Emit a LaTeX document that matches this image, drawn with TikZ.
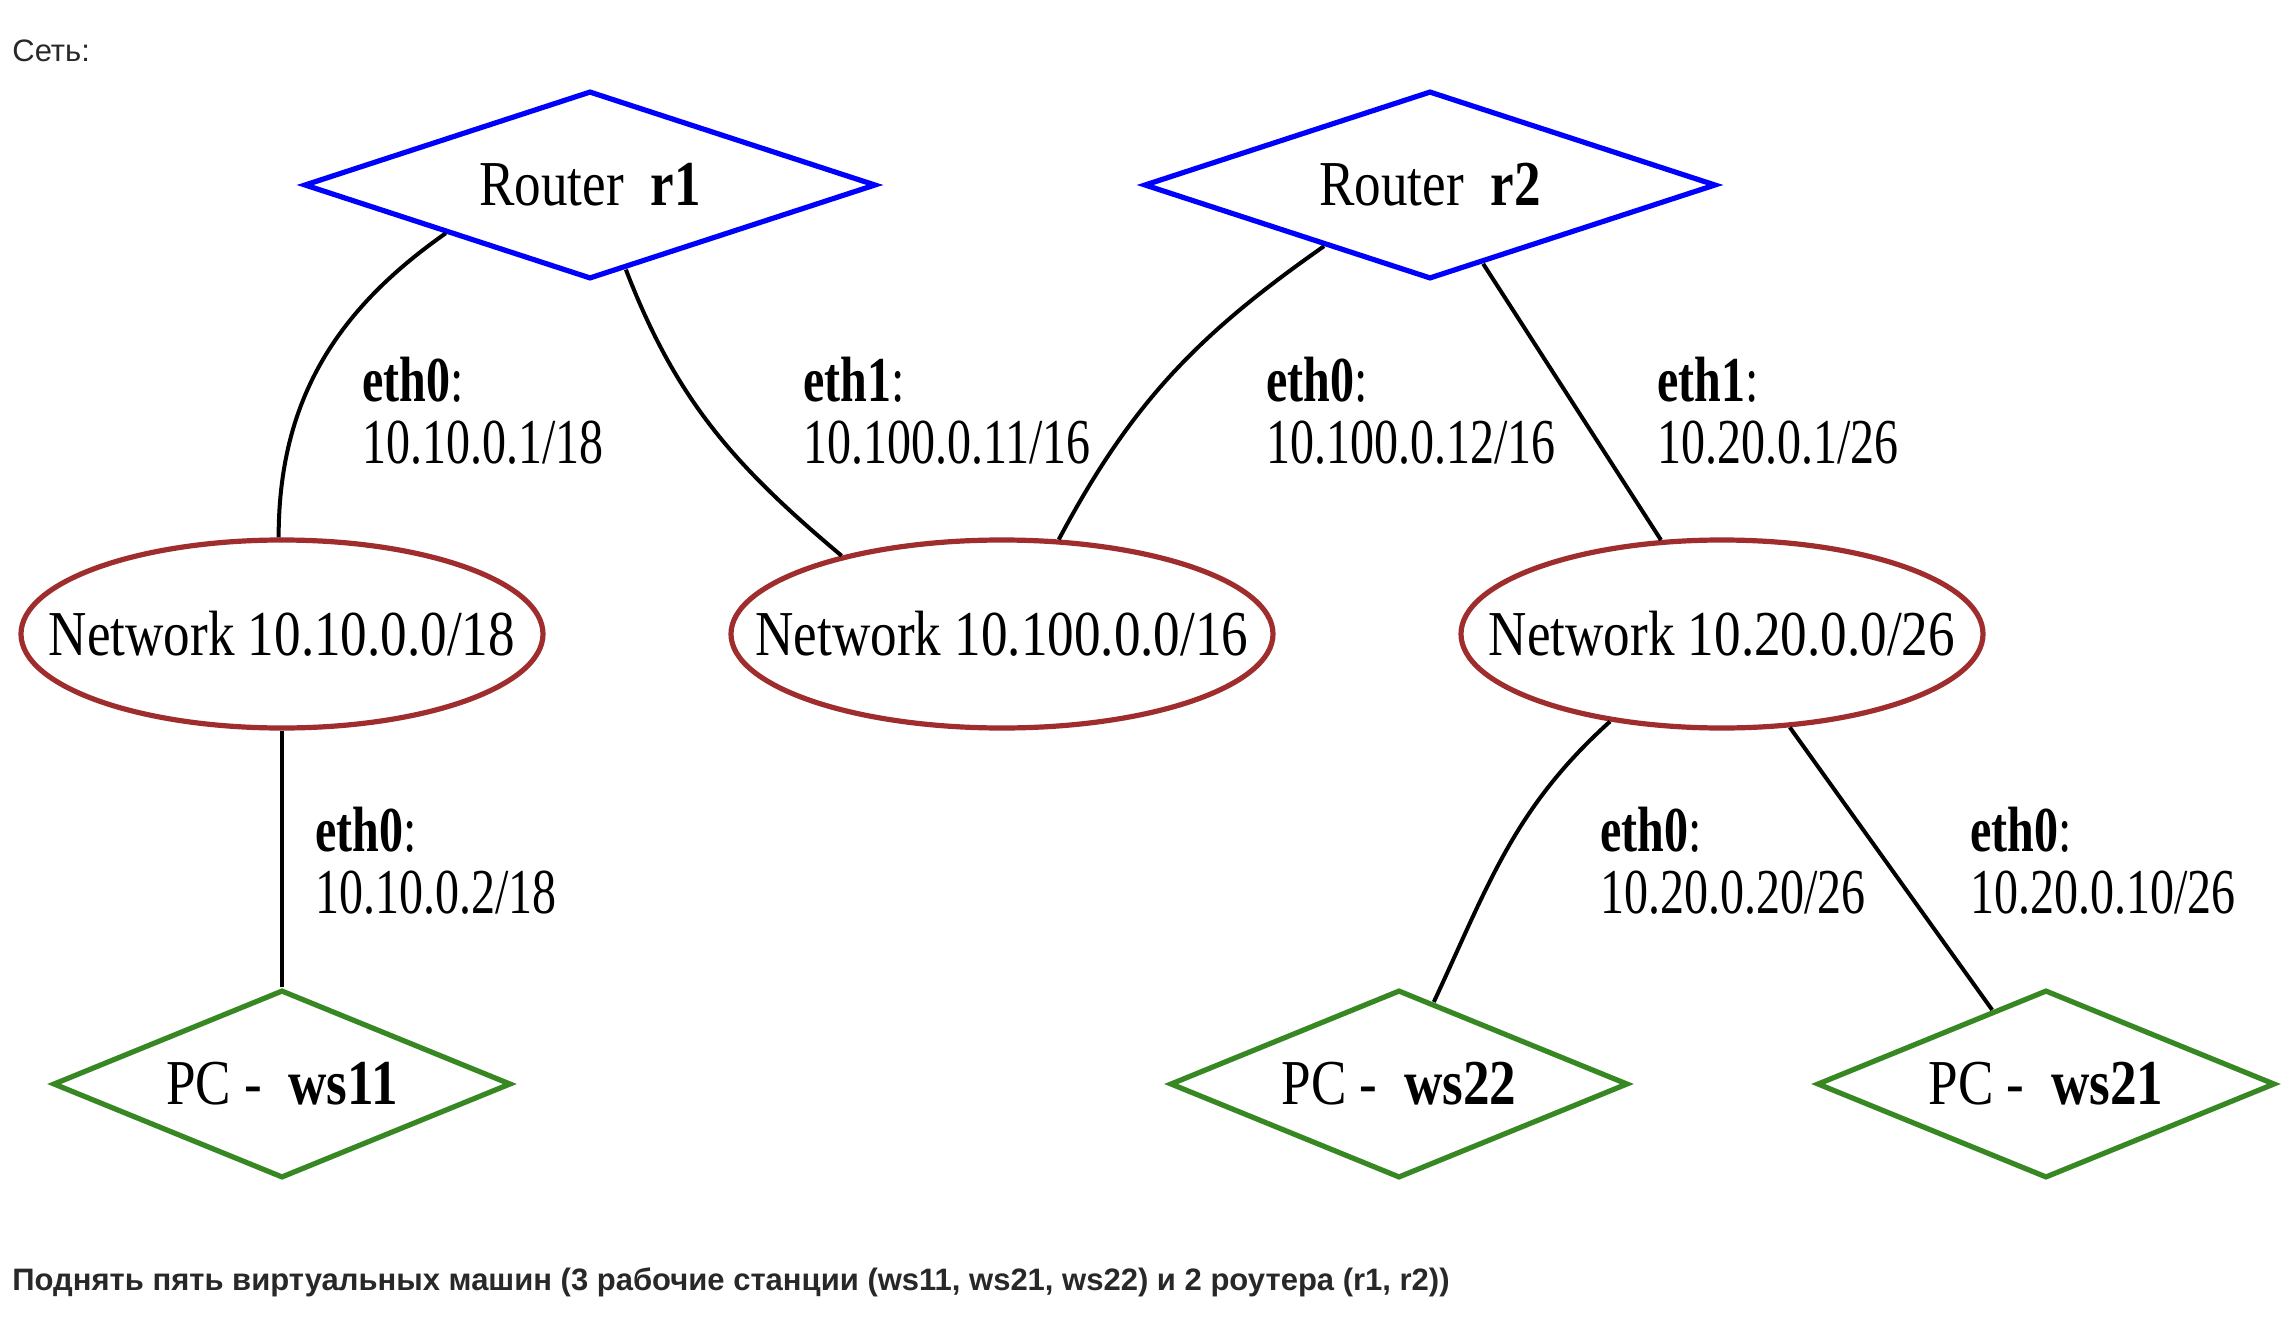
\documentclass[tikz,border=0pt]{standalone}
\usepackage{fontspec}
\setmainfont[FakeStretch=0.83]{Liberation Serif}
\setsansfont{Liberation Sans}
\newfontfamily\ifacefont[FakeStretch=0.75]{Liberation Serif}
\usetikzlibrary{shapes.geometric, positioning}
\definecolor{routercolor}{RGB}{0,0,255}
\definecolor{netcolor}{RGB}{160,45,45}
\definecolor{pccolor}{RGB}{55,135,35}
\definecolor{notecolor}{RGB}{40,40,40}
\newcommand{\gvsize}{\fontsize{32pt}{31pt}\selectfont}

\begin{document}
\begin{tikzpicture}[
    x=0.5pt, y=0.5pt,
    router/.style={diamond, draw=routercolor, line width=2.6pt, minimum width=286pt, minimum height=94pt, aspect=3.05, inner sep=0pt, font=\gvsize},
    pc/.style={diamond, draw=pccolor, line width=2.6pt, minimum width=229pt, minimum height=94pt, aspect=2.44, inner sep=0pt, font=\gvsize},
    net/.style={ellipse, draw=netcolor, line width=2.6pt, minimum width=261pt, minimum height=94pt, inner xsep=-40pt, inner ysep=0pt, font=\gvsize},
    iface/.style={anchor=west, align=left, inner sep=0pt, font=\ifacefont\gvsize},
    note/.style={anchor=west, inner sep=0pt, text=notecolor, font=\sffamily\fontsize{15.5pt}{18pt}\selectfont},
    link/.style={line width=2pt}
]
    \useasboundingbox (0,0) rectangle (2286,-1332);

    % Texts
    \node[note] (title) at (12,-51) {Сеть:};
    \node[note, font=\sffamily\bfseries\fontsize{15.5pt}{18pt}\selectfont] (task) at (12,-1282) {Поднять пять виртуальных машин (3 рабочие станции (ws11, ws21, ws22) и 2 роутера (r1, r2))};

    % Hosts
    \node[router] (r1) at (590,-185) {Router~~\textbf{r1}};
    \node[router] (r2) at (1430,-185) {Router~~\textbf{r2}};
    \node[net] (net1) at (282,-634) {Network 10.10.0.0/18};
    \node[net, minimum width=271pt] (net2) at (1002,-634) {Network 10.100.0.0/16};
    \node[net] (net3) at (1722,-634) {Network 10.20.0.0/26};
    \node[pc] (ws11) at (282,-1084) {PC -~~\textbf{ws11}};
    \node[pc] (ws22) at (1399,-1084) {PC -~~\textbf{ws22}};
    \node[pc] (ws21) at (2046,-1084) {PC -~~\textbf{ws21}};

    % Links
    \draw[link] (r1.south west) to[out=215, in=90] (net1.92);
    \draw[link] (r1.-67) to[out=-69, in=140] (net2.154);
    \draw[link] (r2.210) to[out=215, in=62] (net2.59);
    \draw[link] (r2.-56) -- (net3.123);
    \draw[link] (net1.south) -- (ws11.north);
    \draw[link] (net3.218) to[out=222, in=65] (ws22.67);
    \draw[link] (net3.-54) -- (ws21.126);

    % Interfaces
    \node[iface] (r1eth0) at (362,-411) {\textbf{eth0}:\\10.10.0.1/18};
    \node[iface] (r1eth1) at (803,-411) {\textbf{eth1}:\\10.100.0.11/16};
    \node[iface] (r2eth0) at (1266,-411) {\textbf{eth0}:\\10.100.0.12/16};
    \node[iface] (r2eth1) at (1657,-411) {\textbf{eth1}:\\10.20.0.1/26};
    \node[iface] (ws11eth0) at (315,-861) {\textbf{eth0}:\\10.10.0.2/18};
    \node[iface] (ws22eth0) at (1600,-861) {\textbf{eth0}:\\10.20.0.20/26};
    \node[iface] (ws21eth0) at (1970,-861) {\textbf{eth0}:\\10.20.0.10/26};
\end{tikzpicture}
\end{document}
